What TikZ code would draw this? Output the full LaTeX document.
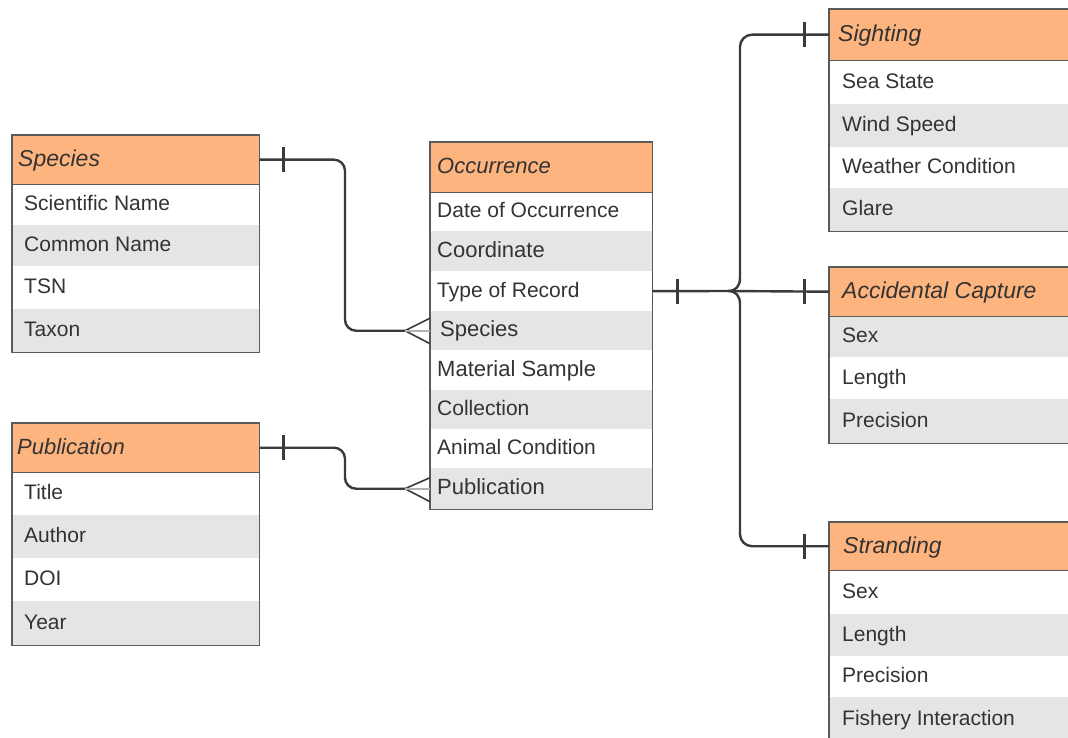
\documentclass[tikz,border=0pt]{standalone}
\usepackage{fontspec}
\setmainfont{Liberation Sans}
\definecolor{hdr}{HTML}{FEB47E}
\definecolor{rowgray}{HTML}{E5E5E5}
\definecolor{ink}{HTML}{333333}
\definecolor{framec}{HTML}{5A5A5A}
\definecolor{linec}{HTML}{3A3A3A}
\tikzset{
  rowbox/.style={rectangle, anchor=north west, inner sep=0pt, draw=none},
  hdrtxt/.style={inner sep=0pt, text height=0.72em, text depth=0pt, text=ink, yshift=-3.5pt, font=\fontsize{23}{26}\selectfont\itshape},
  hdrtxtb/.style={inner sep=0pt, text height=0.72em, text depth=0pt, text=ink, yshift=-3pt, font=\fontsize{22}{25}\selectfont\itshape},
  bodytxt/.style={inner sep=0pt, text height=0.72em, text depth=0pt, text=ink, yshift=-2.5pt, font=\fontsize{21}{24}\selectfont},
  bodytxtb/.style={inner sep=0pt, text height=0.72em, text depth=0pt, text=ink, yshift=-2.5pt, font=\fontsize{22}{25}\selectfont},
  frame/.style={draw=framec, line width=1.6pt},
  conn/.style={draw=linec, line width=2.4pt},
  tickmark/.style={draw=linec, line width=3pt},
  crow/.style={draw=linec, line width=1.6pt},
}
% name, x, ytop, height, width, fill, text, pad, textstyle
\newcommand{\tabrow}[9]{%
  \node[rowbox, fill=#6, minimum width=#5pt, minimum height=#4pt] (#1) at (#2,#3) {};
  \node[#9, anchor=west] (#1-t) at ([xshift=#8pt]#1.west) {#7};}
\begin{document}
\begin{tikzpicture}[x=1pt,y=-1pt]
\useasboundingbox (0,0) rectangle (1068,738);
\fill[white] (0,0) rectangle (1068,738);
\clip (0,0) rectangle (1068,738);

% Species
\tabrow{sph}{12}{135}{49}{247}{hdr}{Species}{6}{hdrtxt}
\tabrow{sp1}{12}{184}{41}{247}{white}{Scientific Name}{12}{bodytxt}
\tabrow{sp2}{12}{225}{41}{247}{rowgray}{Common Name}{12}{bodytxt}
\tabrow{sp3}{12}{266}{43}{247}{white}{TSN}{12}{bodytxt}
\tabrow{sp4}{12}{309}{43}{247}{rowgray}{Taxon}{12}{bodytxt}
\draw[frame] (sph.north west) rectangle (sp4.south east);
\draw[frame] (sph.south west) -- (sph.south east);

% Publication
\tabrow{pbh}{12}{423}{49}{247}{hdr}{Publication}{5}{hdrtxtb}
\tabrow{pb1}{12}{472}{43}{247}{white}{Title}{12}{bodytxt}
\tabrow{pb2}{12}{515}{43}{247}{rowgray}{Author}{12}{bodytxt}
\tabrow{pb3}{12}{558}{43}{247}{white}{DOI}{12}{bodytxt}
\tabrow{pb4}{12}{601}{44}{247}{rowgray}{Year}{12}{bodytxt}
\draw[frame] (pbh.north west) rectangle (pb4.south east);
\draw[frame] (pbh.south west) -- (pbh.south east);

% Occurrence
\tabrow{och}{430}{142}{50}{222}{hdr}{Occurrence}{7}{hdrtxtb}
\tabrow{oc1}{430}{192}{39}{222}{white}{Date of Occurrence}{7}{bodytxt}
\tabrow{oc2}{430}{231}{40}{222}{rowgray}{Coordinate}{7}{bodytxtb}
\tabrow{oc3}{430}{271}{40}{222}{white}{Type of Record}{7}{bodytxt}
\tabrow{oc4}{430}{311}{39}{222}{rowgray}{Species}{10}{bodytxtb}
\tabrow{oc5}{430}{350}{40}{222}{white}{Material Sample}{7}{bodytxtb}
\tabrow{oc6}{430}{390}{39}{222}{rowgray}{Collection}{7}{bodytxt}
\tabrow{oc7}{430}{429}{39}{222}{white}{Animal Condition}{7}{bodytxt}
\tabrow{oc8}{430}{468}{41}{222}{rowgray}{Publication}{7}{bodytxtb}
\draw[frame] (och.north west) rectangle (oc8.south east);
\draw[frame] (och.south west) -- (och.south east);

% Sighting
\tabrow{sih}{829}{9}{51}{262}{hdr}{Sighting}{9}{hdrtxt}
\tabrow{si1}{829}{60}{44}{262}{white}{Sea State}{13}{bodytxt}
\tabrow{si2}{829}{104}{43}{262}{rowgray}{Wind Speed}{13}{bodytxt}
\tabrow{si3}{829}{147}{41}{262}{white}{Weather Condition}{13}{bodytxt}
\tabrow{si4}{829}{188}{43}{262}{rowgray}{Glare}{13}{bodytxt}
\draw[frame] (sih.north west) rectangle (si4.south east);
\draw[frame] (sih.south west) -- (sih.south east);

% Accidental Capture
\tabrow{ach}{829}{267}{49}{262}{hdr}{Accidental Capture}{13}{hdrtxt}
\tabrow{ac1}{829}{316}{41}{262}{rowgray}{Sex}{13}{bodytxt}
\tabrow{ac2}{829}{357}{42}{262}{white}{Length}{13}{bodytxt}
\tabrow{ac3}{829}{399}{44}{262}{rowgray}{Precision}{13}{bodytxt}
\draw[frame] (ach.north west) rectangle (ac3.south east);
\draw[frame] (ach.south west) -- (ach.south east);

% Stranding
\tabrow{sth}{829}{522}{48}{262}{hdr}{Stranding}{14}{hdrtxt}
\tabrow{st1}{829}{570}{44}{262}{white}{Sex}{13}{bodytxt}
\tabrow{st2}{829}{614}{42}{262}{rowgray}{Length}{13}{bodytxt}
\tabrow{st3}{829}{656}{41}{262}{white}{Precision}{13}{bodytxt}
\tabrow{st4}{829}{697}{45}{262}{rowgray}{Fishery Interaction}{13}{bodytxt}
\draw[frame] (sth.north west) rectangle (st4.south east);
\draw[frame] (sth.south west) -- (sth.south east);

% Species -> Occurrence.Species
\coordinate (cfa) at ([xshift=-25pt]oc4.west);
\draw[conn, rounded corners=11pt] (sph.east) -| ([xshift=-85pt]oc4.west) -- (cfa);
\draw[crow] ([yshift=12.5pt]oc4.west) -- (cfa) -- ([yshift=-13pt]oc4.west);
\draw[crow, draw=gray!60] (cfa) -- (oc4.west);
\draw[tickmark] ([xshift=24pt]sph.east) ++(0,-12.5) -- ++(0,25);

% Publication -> Occurrence.Publication
\coordinate (cfb) at ([xshift=-25pt]oc8.west);
\draw[conn, rounded corners=11pt] (pbh.east) -| ([xshift=-85pt]oc8.west) -- (cfb);
\draw[crow] ([yshift=11pt]oc8.west) -- (cfb) -- ([yshift=-13pt]oc8.west);
\draw[crow, draw=gray!60] (cfb) -- (oc8.west);
\draw[tickmark] ([xshift=24pt]pbh.east) ++(0,-12.5) -- ++(0,25);

% Occurrence -> subtypes (brace)
\coordinate (br) at (728,291);
\coordinate (bru) at (740,278);
\coordinate (brd) at (740,304);
\draw[conn] (oc3.east) -- (br);
\draw[tickmark] ([xshift=25pt]oc3.east) ++(0,-12.5) -- ++(0,25);
\draw[conn] (br) -- (ach.west);
\draw[conn, line join=round] (bru) .. controls (740,286) and (736,291) .. (br) .. controls (736,291) and (740,296) .. (brd);
\draw[conn, rounded corners=12pt] (bru) |- (sih.west);
\draw[conn, rounded corners=12pt] (brd) |- (sth.west);
\draw[tickmark] ([xshift=-25pt]sih.west) ++(0,-12.5) -- ++(0,25);
\draw[tickmark] ([xshift=-25pt]ach.west) ++(0,-12.5) -- ++(0,25);
\draw[tickmark] ([xshift=-25pt]sth.west) ++(0,-12.5) -- ++(0,25);
\end{tikzpicture}
\end{document}
